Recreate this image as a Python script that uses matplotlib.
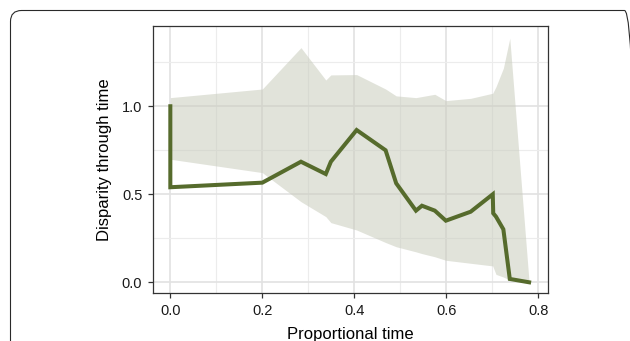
import matplotlib
matplotlib.use("Agg")
import matplotlib.pyplot as plt
from matplotlib.patches import FancyBboxPatch
from matplotlib.transforms import IdentityTransform

plt.rcParams['font.family'] = ['Liberation Sans', 'DejaVu Sans']

# proportional time
prop_time = [0.0, 0.0, 0.2, 0.284, 0.338, 0.349, 0.405, 0.468, 0.491, 0.534,
             0.547, 0.575, 0.599, 0.653, 0.701, 0.702, 0.708, 0.724, 0.738, 0.780]
# median disparity
disparity = [1.0, 0.54, 0.566, 0.685, 0.615, 0.685, 0.865, 0.75, 0.5625, 0.407,
             0.435, 0.407, 0.35, 0.401, 0.5, 0.392, 0.373, 0.301, 0.019, 0.0]
# confidence band
upper = [1.049, 1.049, 1.098, 1.333, 1.149, 1.178, 1.18, 1.098, 1.059, 1.049,
         1.055, 1.068, 1.032, 1.045, 1.074, 1.08, 1.111, 1.216, 1.386, 0.0]
lower = [0.699, 0.699, 0.623, 0.458, 0.373, 0.339, 0.297, 0.226, 0.202, 0.173,
         0.163, 0.145, 0.125, 0.108, 0.093, 0.085, 0.045, 0.03, 0.013, 0.0]

fig = plt.figure(figsize=(6.3, 3.41), dpi=100)

# rounded frame round the figure panel (pixel coords, runs off right/bottom)
frame = FancyBboxPatch((10.5, -30), 625, 341 - 10.5 + 30,
                       boxstyle="round,pad=0,rounding_size=11",
                       transform=IdentityTransform(), fill=False,
                       edgecolor='#2a2a2a', linewidth=0.8, clip_on=False)
fig.patches.append(frame)

ax = fig.add_axes([0.2424, 0.1399, 0.6279, 0.7839])

ax.fill_between(prop_time, lower, upper, color='#c9ccbd', alpha=0.55,
                linewidth=0, zorder=2)
ax.plot(prop_time, disparity, color='#566b2c', linewidth=2.9, zorder=3,
        solid_joinstyle='miter')

ax.set_xlim(-0.0383, 0.8217)
ax.set_ylim(-0.0625, 1.456)
ax.set_xticks([0.0, 0.2, 0.4, 0.6, 0.8])
ax.set_xticklabels(['0.0', '0.2', '0.4', '0.6', '0.8'])
ax.set_yticks([0.0, 0.5, 1.0])
ax.set_yticklabels(['0.0', '0.5', '1.0'])
ax.set_xticks([0.1, 0.3, 0.5, 0.7], minor=True)
ax.set_yticks([0.25, 0.75, 1.25], minor=True)

ax.grid(True, which='major', color='#e2e2e2', linewidth=1.2, zorder=0)
ax.grid(True, which='minor', color='#ececec', linewidth=0.8, zorder=0)
ax.set_axisbelow(True)

for s in ax.spines.values():
    s.set_color('#333333')
    s.set_linewidth(0.9)

ax.tick_params(which='major', length=3.5, width=0.9, color='#333333',
               labelsize=10.5, labelcolor='#1a1a1a', pad=4)
ax.tick_params(which='minor', length=0)

ax.set_xlabel('Proportional time', fontsize=12, color='black', labelpad=7)
ax.set_ylabel('Disparity through time', fontsize=12, color='black', labelpad=7)

fig.savefig('out.png', dpi=100)
